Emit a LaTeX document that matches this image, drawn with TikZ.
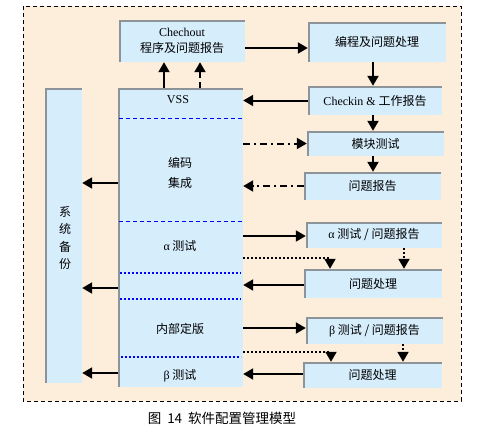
\documentclass[tikz,border=0pt]{standalone}
\usepackage{fontspec}
\setmainfont{Noto Sans CJK SC}
\newfontfamily\lat{Liberation Serif}
\usetikzlibrary{arrows.meta,calc}
\definecolor{peach}{HTML}{FDEEDC}
\definecolor{boxblue}{HTML}{D6EDFC}
\definecolor{boxgray}{HTML}{8C9399}
\tikzset{
  box/.style={fill=boxblue, draw=none, inner sep=0pt, align=center,
    font=\fontsize{12}{15.5}\selectfont,
    path picture={\draw[boxgray,line width=3pt]
      (path picture bounding box.south west) -- (path picture bounding box.north west)
      -- (path picture bounding box.north east);}},
  lbl/.style={inner sep=0pt, font=\fontsize{12}{14}\selectfont},
  arr/.style={line width=2pt, -{Triangle[length=10pt,width=11pt]}},
  dd/.style={arr, dash pattern=on 7pt off 4pt on 2pt off 4pt},
  dt/.style={arr, dash pattern=on 2pt off 2pt},
  sdash/.style={arr, dash pattern=on 6pt off 4pt},
  bdash/.style={blue, line width=1pt, dash pattern=on 4pt off 3pt},
  bdot/.style={blue, line width=2pt, dash pattern=on 2pt off 2pt},
}
\begin{document}
\begin{tikzpicture}[x=1pt,y=-1pt]
\useasboundingbox (0,0) rectangle (484,431);
\fill[peach] (23,6) rectangle (461,401);
\draw[line width=1pt, dash pattern=on 4pt off 3pt] (23,6) rectangle (461,401);

% boxes
\node[box, minimum width=126pt, minimum height=42pt] (chk) at (182,41)
  {{\lat Chechout}\\程序及问题报告};
\node[box, minimum width=125pt, minimum height=299pt] (vss) at (180.5,237.5) {};
\node[box, minimum width=37pt, minimum height=295pt] (bak) at (63.5,235.5) {};
\node[box, minimum width=138pt, minimum height=40pt] (r1) at (377,42) {编程及问题处理};
\node[box, minimum width=134pt, minimum height=29pt] (r2) at (375,100.5) {{\lat Checkin \&} 工作报告};
\node[box, minimum width=137pt, minimum height=25pt] (r3) at (375.5,143.5) {模块测试};
\node[box, minimum width=137pt, minimum height=28pt] (r4) at (372.5,186) {问题报告};
\node[box, minimum width=136pt, minimum height=26pt] (r5) at (374,235) {{\lat α} 测试 / 问题报告};
\node[box, minimum width=138pt, minimum height=29pt] (r6) at (373,283.5) {问题处理};
\node[box, minimum width=137pt, minimum height=27pt] (r7) at (374.5,330.5) {{\lat β} 测试 / 问题报告};
\node[box, minimum width=139pt, minimum height=26pt] (r8) at (372.5,375) {问题处理};

% texts in the VSS column
\node[lbl] (tvss) at (178,100) {\lat VSS};
\node[lbl, align=center, font=\fontsize{12}{20}\selectfont] (tcode) at (180,173) {编码\\集成};
\node[lbl] (talpha) at (180,246) {{\lat α} 测试};
\node[lbl] (tfix) at (180,329) {内部定版};
\node[lbl] (tbeta) at (180,376) {{\lat β} 测试};
\node[lbl, align=center, font=\fontsize{12}{17.5}\selectfont] (tbak) at (65,238) {系\\统\\备\\份};

% dividers
\draw[bdash] (119,118) -- (243,118);
\draw[bdash] (119,221) -- (243,221);
\draw[bdot] (120,273) -- (241,273);
\draw[bdot] (120,299) -- (241,299);
\draw[bdot] (121,357) -- (241,357);

% helper coordinates
\coordinate (cx) at (373,0);
\coordinate (u1) at (164,0);
\coordinate (u2) at (200,0);

% connectors
\draw[arr] (vss.north -| u1) -- (chk.south -| u1);
\draw[sdash] (vss.north -| u2) -- (chk.south -| u2);
\draw[arr] ($(chk.east)+(0,7)$) -- ($(chk.east -| r1.west)+(0,7)$);
\draw[arr] (r1.south -| cx) -- (r2.north -| cx);
\draw[arr] (r2.west) -- (r2.west -| vss.east);
\draw[arr] (r2.south -| cx) -- (r3.north -| cx);
\draw[dd] (r3.west -| vss.east) -- (r3.west);
\draw[arr] (r3.south -| cx) -- (r4.north -| cx);
\draw[dd] (r4.west) -- (r4.west -| vss.east);

\coordinate (b1) at (0,183);
\coordinate (b2) at (0,288);
\coordinate (b3) at (0,373);
\draw[arr] (vss.west |- b1) -- (bak.east |- b1);
\draw[arr] (vss.west |- b2) -- (bak.east |- b2);
\draw[arr] (vss.west |- b3) -- (bak.east |- b3);

\coordinate (a1) at (0,236);
\draw[arr] (vss.east |- a1) -- (r5.west |- a1);
\coordinate (d1) at (330,258);
\draw[dt] (vss.east |- d1) -- (d1) -- (r6.north -| d1);
\coordinate (e1) at (404,0);
\draw[dt] (r5.south -| e1) -- (r6.north -| e1);
\draw[arr] (r6.west |- 0,285) -- (vss.east |- 0,285);

\coordinate (a2) at (0,328);
\draw[arr] (vss.east |- a2) -- (r7.west |- a2);
\coordinate (d2) at (331,352);
\draw[dt] (vss.east |- d2) -- (d2) -- (r8.north -| d2);
\coordinate (e2) at (403,0);
\draw[dt] (r7.south -| e2) -- (r8.north -| e2);
\draw[arr] (r8.west |- 0,374) -- (vss.east |- 0,374);

% caption
\node[inner sep=0pt, font=\fontsize{13.5}{15}\selectfont] (cap) at (222,418)
  {图\hspace{6pt}14\hspace{6pt}软件配置管理模型};
\end{tikzpicture}
\end{document}
